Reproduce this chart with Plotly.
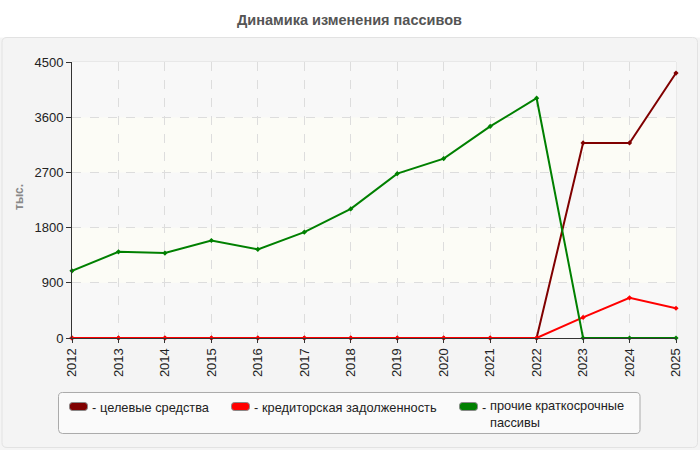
import plotly.graph_objects as go

years = [2012, 2013, 2014, 2015, 2016, 2017, 2018, 2019, 2020, 2021, 2022, 2023, 2024, 2025]
celevye = [0, 0, 0, 0, 0, 0, 0, 0, 0, 0, 0, 3180, 3180, 4320]
kredit = [0, 0, 0, 0, 0, 0, 0, 0, 0, 0, 0, 335, 655, 485]
prochie = [1095, 1405, 1385, 1590, 1445, 1725, 2105, 2680, 2925, 3450, 3910, 0, 0, 0]
series_names = ["целевые средства", "кредиторская задолженность", "прочие краткосрочные<br>пассивы"]
series_colors = ["#800000", "#ff0000", "#008000"]
y_ticks = [0, 900, 1800, 2700, 3600, 4500]
title_text = "Динамика изменения пассивов"
y_title = "тыс."

FONT = "Liberation Sans, Arial, sans-serif"
L, R, T, B = 72, 676, 62, 338
W, H = R - L, B - T
LEG_FS = 12.8


def X(px):
    return (px - L) / W


def Y(py):
    return (B - py) / H


def rr(x0, y0, x1, y1, r):
    pts = [
        ("M", [(x0 + r, y0)]), ("L", [(x1 - r, y0)]), ("Q", [(x1, y0), (x1, y0 + r)]),
        ("L", [(x1, y1 - r)]), ("Q", [(x1, y1), (x1 - r, y1)]), ("L", [(x0 + r, y1)]),
        ("Q", [(x0, y1), (x0, y1 - r)]), ("L", [(x0, y0 + r)]), ("Q", [(x0, y0), (x0 + r, y0)]),
    ]
    s = ""
    for cmd, ps in pts:
        s += cmd + " " + " ".join(f"{X(a):.5f},{Y(b):.5f}" for a, b in ps) + " "
    return s + "Z"


fig = go.Figure()
for name, vals, col in zip(series_names, [celevye, kredit, prochie], series_colors):
    fig.add_trace(go.Scatter(
        x=years, y=vals, mode="lines+markers", name=name.replace("<br>", " "),
        line=dict(color=col, width=2), marker=dict(symbol="diamond", size=4, color=col),
        hoverinfo="skip", showlegend=False, cliponaxis=False,
    ))

shapes = []
shapes.append(dict(type="rect", xref="paper", yref="paper", x0=X(-5), x1=X(705), y0=Y(37.5), y1=Y(-5),
                   fillcolor="white", line=dict(width=0), layer="below"))
shapes.append(dict(type="path", xref="paper", yref="paper", path=rr(2, 37.5, 697.5, 447.5, 5),
                   line=dict(color="#e2e2e2", width=1), fillcolor="rgba(0,0,0,0)", layer="below"))
for i in range(len(y_ticks) - 1):
    col = "#f8f8f8" if i % 2 == 0 else "#fcfcf6"
    shapes.append(dict(type="rect", xref="x", yref="y", x0=years[0], x1=years[-1], y0=y_ticks[i], y1=y_ticks[i + 1],
                       fillcolor=col, line=dict(width=0), layer="below"))
shapes.append(dict(type="rect", xref="paper", yref="paper", x0=0, x1=1, y0=0, y1=1,
                   line=dict(color="#dddddd", width=1), fillcolor="rgba(0,0,0,0)", layer="below"))
shapes.append(dict(type="path", xref="paper", yref="paper", path=rr(58.5, 392.5, 640, 433.5, 4),
                   line=dict(color="#aaaaaa", width=1), fillcolor="#fafafa", layer="above"))

annotations = [
    dict(text=f"<b>{title_text}</b>", xref="paper", yref="paper", x=X(349.5), y=Y(20), showarrow=False,
         xanchor="center", yanchor="middle", font=dict(family=FONT, size=14.5, color="#555555")),
    dict(text=f"<b>{y_title}</b>", xref="paper", yref="paper", x=X(19), y=Y(197), showarrow=False,
         textangle=-90, xanchor="center", yanchor="middle", font=dict(family=FONT, size=12, color="#888888")),
]

sw_x = [69.5, 231.5, 459.5]
for name, col, sx in zip(series_names, series_colors, sw_x):
    shapes.append(dict(type="path", xref="paper", yref="paper", path=rr(sx, 402.5, sx + 18, 410.5, 3),
                       line=dict(color="#888888", width=1), fillcolor=col, layer="above"))
    annotations.append(dict(text="-", xref="paper", yref="paper", x=X(sx + 20.5), y=Y(407), showarrow=False,
                            xanchor="left", yanchor="middle", font=dict(family=FONT, size=LEG_FS, color="#222222")))
    n = name.count("<br>") + 1
    yc = 407 if n == 1 else 407 + 16.6 * (n - 1) / 2 - 1.5
    annotations.append(dict(text=name, xref="paper", yref="paper", x=X(sx + 28), y=Y(yc),
                            showarrow=False, xanchor="left", yanchor="middle", align="left",
                            font=dict(family=FONT, size=LEG_FS, color="#222222")))

fig.update_layout(
    width=700, height=450,
    margin=dict(l=L, r=700 - R, t=T, b=450 - B, pad=0),
    paper_bgcolor="#f4f4f4", plot_bgcolor="#f8f8f8",
    font=dict(family=FONT, size=13, color="#222222"),
    shapes=shapes, annotations=annotations, showlegend=False,
    xaxis=dict(range=[years[0], years[-1]], tickvals=years, ticktext=[str(y) for y in years], tickangle=-90,
               showgrid=True, gridcolor="#dddddd", griddash="dash", gridwidth=1,
               showline=True, linecolor="#333333", linewidth=1, ticks="outside", ticklen=4, tickcolor="#333333",
               zeroline=False, tickfont=dict(family=FONT, size=13, color="#222222"), fixedrange=True),
    yaxis=dict(range=[0, 4500], tickvals=y_ticks, showgrid=True, gridcolor="#dddddd", griddash="dash", gridwidth=1,
               showline=True, linecolor="#333333", linewidth=1, ticks="outside", ticklen=5, tickcolor="#333333",
               zeroline=False, tickfont=dict(family=FONT, size=13, color="#222222"), fixedrange=True),
)

fig.write_html("out.html", config={"displayModeBar": False},
               post_script="document.body.style.margin='0';document.body.style.padding='0';")
